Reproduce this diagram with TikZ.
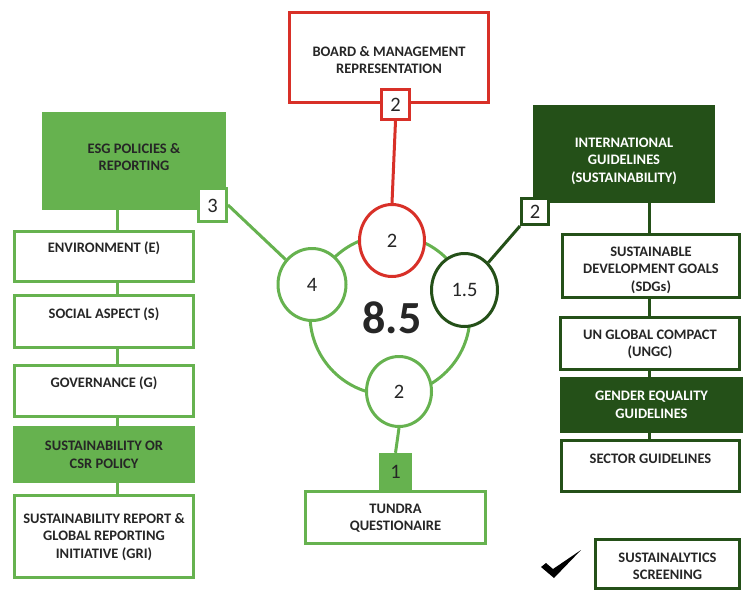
\documentclass[tikz,border=0pt]{standalone}
\usepackage{fontspec}
\setmainfont{Carlito}
\usetikzlibrary{shapes.geometric}
\definecolor{lg}{HTML}{66B24F}
\definecolor{dg}{HTML}{245018}
\definecolor{rd}{HTML}{D83028}
\definecolor{tx}{HTML}{262626}
\pgfdeclarelayer{bg}\pgfsetlayers{bg,main}
\begin{document}
\begin{tikzpicture}[x=1pt,y=-1pt,
 wbox/.style={draw=#1, line width=3pt, fill=white, rectangle, inner sep=0pt},
 fbox/.style={fill=#1, draw=none, rectangle, inner sep=0pt},
 lbl/.style={text=tx, font=\fontsize{14.5}{17.5}\selectfont\bfseries, align=center, inner sep=0pt},
 lblw/.style={lbl, text=white},
 num/.style={text=tx, font=\fontsize{20.5}{20.5}\selectfont, inner sep=0pt},
 ell/.style={ellipse, draw=#1, line width=3pt, fill=white, inner sep=0pt},
 conn/.style={draw=#1, line width=3pt},
]
\useasboundingbox (0,0) rectangle (744,592);
\coordinate (lx) at (117.5,0);
\coordinate (rx) at (649.5,0);

% top board
\node[wbox=rd, minimum width=199pt, minimum height=90pt] (board) at (389,57.5) {};
\node[lbl] (boardt) at (389,60) {BOARD \& MANAGEMENT\\REPRESENTATION};
\node[wbox=rd, minimum width=28pt, minimum height=30pt] (badgeb) at (395.5,104.5) {};
\node[num] (badgebt) at (395.5,105) {2};

% left stack
\node[fbox=lg, minimum width=184pt, minimum height=98pt] (esg) at (134,161) {};
\node[lbl] (esgt) at (134,157) {ESG POLICIES \&\\REPORTING};
\node[wbox=lg, minimum width=28pt, minimum height=33pt] (badge3) at (212.5,205) {};
\node[num] (badge3t) at (212.5,206) {3};
\node[wbox=lg, minimum width=179pt, minimum height=50pt] (env) at (104,256.5) {};
\node[lbl] (envt) at (104,248) {ENVIRONMENT (E)};
\node[wbox=lg, minimum width=179pt, minimum height=52pt] (soc) at (104,321.5) {};
\node[lbl] (soct) at (104,314) {SOCIAL ASPECT (S)};
\node[wbox=lg, minimum width=179pt, minimum height=51pt] (gov) at (104,391) {};
\node[lbl] (govt) at (104,383) {GOVERNANCE (G)};
\node[fbox=lg, minimum width=182pt, minimum height=57pt] (csr) at (104,454.5) {};
\node[lbl] (csrt) at (104,455) {SUSTAINABILITY OR\\CSR POLICY};
\node[wbox=lg, minimum width=179pt, minimum height=82pt] (gri) at (104,536.5) {};
\node[lbl] (grit) at (104,537) {SUSTAINABILITY REPORT \&\\GLOBAL REPORTING\\INITIATIVE (GRI)};

% right stack
\node[fbox=dg, minimum width=182pt, minimum height=98pt] (intl) at (624,154) {};
\node[lblw] (intlt) at (624,161) {INTERNATIONAL\\GUIDELINES\\(SUSTAINABILITY)};
\node[wbox=dg, minimum width=27pt, minimum height=26pt] (badge2) at (535,211.5) {};
\node[num] (badge2t) at (535,212) {2};
\node[wbox=dg, minimum width=177pt, minimum height=63pt] (sdg) at (651,266) {};
\node[lbl] (sdgt) at (651,270) {SUSTAINABLE\\DEVELOPMENT GOALS\\(SDGs)};
\node[wbox=dg, minimum width=179pt, minimum height=52pt] (ungc) at (650,343.5) {};
\node[lbl] (ungct) at (650,344.5) {UN GLOBAL COMPACT\\(UNGC)};
\node[fbox=dg, minimum width=183pt, minimum height=56pt] (gender) at (651.5,405) {};
\node[lblw] (gendert) at (651.5,405) {GENDER EQUALITY\\GUIDELINES};
\node[wbox=dg, minimum width=178pt, minimum height=51pt] (sector) at (650.5,466) {};
\node[lbl] (sectort) at (650.5,459) {SECTOR GUIDELINES};
\node[wbox=dg, minimum width=144pt, minimum height=49pt] (sust) at (667.5,564) {};
\node[lbl] (sustt) at (667.5,566.5) {SUSTAINALYTICS\\SCREENING};

% bottom
\node[wbox=lg, minimum width=180pt, minimum height=52pt] (tundra) at (395.5,517.5) {};
\node[lbl] (tundrat) at (395.5,518) {TUNDRA\\QUESTIONAIRE};
\node[fbox=lg, minimum width=33pt, minimum height=37pt] (badge1) at (395.5,471.5) {};
\node[num] (badge1t) at (395.5,472) {1};

% circles
\node[ell=lg, minimum width=68pt, minimum height=72pt] (c4) at (312,284.5) {};
\node[num] at (c4) {4};
\node[ell=rd, minimum width=65pt, minimum height=72pt] (cr) at (392,240.5) {};
\node[num] at (cr) {2};
\node[ell=dg, minimum width=66pt, minimum height=73pt] (c15) at (464.5,290) {};
\node[num] at (c15) {1.5};
\node[ell=lg, minimum width=65pt, minimum height=70pt] (cb) at (399,391.5) {};
\node[num] at (cb) {2};
\node[text=tx, font=\fontsize{46}{46}\selectfont\bfseries, inner sep=0pt] (total) at (392,318) {8.5};

% checkmark
\fill[black] (541,567) -- (546,563) -- (553,569) -- (581,550) -- (554,578) -- cycle;

\begin{pgfonlayer}{bg}
\node[circle, draw=lg, line width=3pt, minimum size=160pt, inner sep=0pt] (ring) at (390,315) {};
\draw[conn=rd] (badgeb.south) -- (cr.north);
\draw[conn=lg] (badge3.east) -- (c4);
\draw[conn=dg] (badge2.south west) -- (c15);
\draw[conn=lg] (cb.south) -- (badge1.north);
\draw[conn=lg] (esg.south -| lx) -- (env.north -| lx);
\draw[conn=lg] (env.south -| lx) -- (soc.north -| lx);
\draw[conn=lg] (soc.south -| lx) -- (gov.north -| lx);
\draw[conn=lg] (gov.south -| lx) -- (csr.north -| lx);
\draw[conn=lg] (csr.south -| lx) -- (gri.north -| lx);
\draw[conn=dg] (intl.south -| rx) -- (sdg.north -| rx);
\draw[conn=dg] (sdg.south -| rx) -- (ungc.north -| rx);
\draw[conn=dg] (ungc.south -| rx) -- (gender.north -| rx);
\draw[conn=dg] (gender.south -| rx) -- (sector.north -| rx);
\end{pgfonlayer}
\end{tikzpicture}
\end{document}
